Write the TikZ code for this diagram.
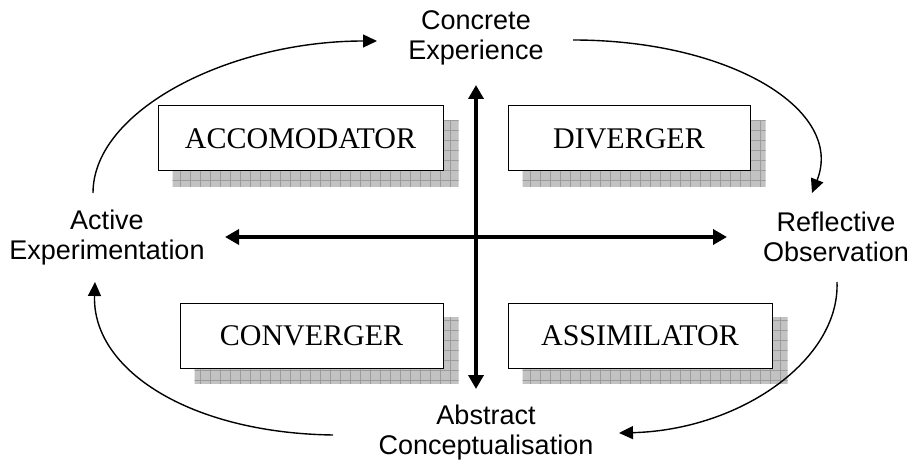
\documentclass[tikz,border=0pt]{standalone}
\usepackage{fontspec}
\setmainfont{Liberation Serif}
\newfontfamily\labelfont{Liberation Sans}
\usetikzlibrary{arrows.meta,backgrounds}
\definecolor{shadowfill}{HTML}{C2C2C2}
\definecolor{shadowgrid}{HTML}{9C9C9C}
\begin{document}
\begin{tikzpicture}[x=1pt,y=-1pt,
  stylebox/.style={draw=black, line width=1pt, fill=white, minimum height=65pt, inner sep=0pt, font=\fontsize{30}{34}\selectfont},
  cyclelabel/.style={align=center, inner sep=0pt, font=\labelfont\fontsize{27}{30}\selectfont},
  axisarrow/.style={line width=4pt, {Triangle[length=14pt,width=15pt]}-{Triangle[length=14pt,width=15pt]}},
  cyclearrow/.style={line width=1.4pt, -{Triangle[length=14pt,width=13pt]}}]
\useasboundingbox (0,0) rectangle (914,468);

% boxes
\node[stylebox, minimum width=285pt] (acc) at (300.5,138.5) {ACCOMODATOR};
\node[stylebox, minimum width=242pt] (div) at (629,138.5) {DIVERGER};
\node[stylebox, minimum width=263pt] (con) at (311.5,335.5) {CONVERGER};
\node[stylebox, minimum width=264pt] (ass) at (640,335.5) {ASSIMILATOR};

% shadows
\begin{pgfonlayer}{background}
\fill[white] (0,0) rectangle (914,468);
\foreach \b in {acc,div,con,ass}{
  \begin{scope}
    \clip ([xshift=15pt,yshift=-15pt]\b.south west) rectangle ([xshift=15pt,yshift=-15pt]\b.north east);
    \fill[shadowfill] (0,0) rectangle (914,468);
    \foreach \g in {0,10,...,910} \draw[shadowgrid,line width=0.7pt] (\g,0) -- (\g,468);
    \foreach \g in {0,10,...,460} \draw[shadowgrid,line width=0.7pt] (0,\g) -- (914,\g);
  \end{scope}
}
\end{pgfonlayer}

% labels
\node[cyclelabel] (ce) at (476,38) {Concrete\\Experience};
\node[cyclelabel] (ae) at (107,238) {Active\\Experimentation};
\node[cyclelabel] (ro) at (836,237) {Reflective\\Observation};
\node[cyclelabel] (ac) at (486,433) {Abstract\\Conceptualisation};

% axes
\coordinate (vtop) at (476,85);
\coordinate (vbot) at (476,389);
\coordinate (hleft) at (225,237);
\coordinate (hright) at (727,237);
\draw[axisarrow] (vbot) -- (vtop);
\draw[axisarrow] (hleft) -- (hright);

% cycle arrows
\coordinate (tl0) at (93,193);   \coordinate (tl1) at (377,41);
\coordinate (tr0) at (573,40);   \coordinate (tr1) at (812,193);
\coordinate (br0) at (837,282);  \coordinate (br1) at (619,433);
\coordinate (bl0) at (333,435);  \coordinate (bl1) at (95,282);
\draw[cyclearrow] (tl0) .. controls (93,110) and (230,41) .. (tl1);
\draw[cyclearrow] (tr0) .. controls (730,40) and (845,110) .. (tr1);
\draw[cyclearrow] (br0) .. controls (840,360) and (740,430) .. (br1);
\draw[cyclearrow] (bl0) .. controls (190,433) and (92,370) .. (bl1);
\end{tikzpicture}
\end{document}
